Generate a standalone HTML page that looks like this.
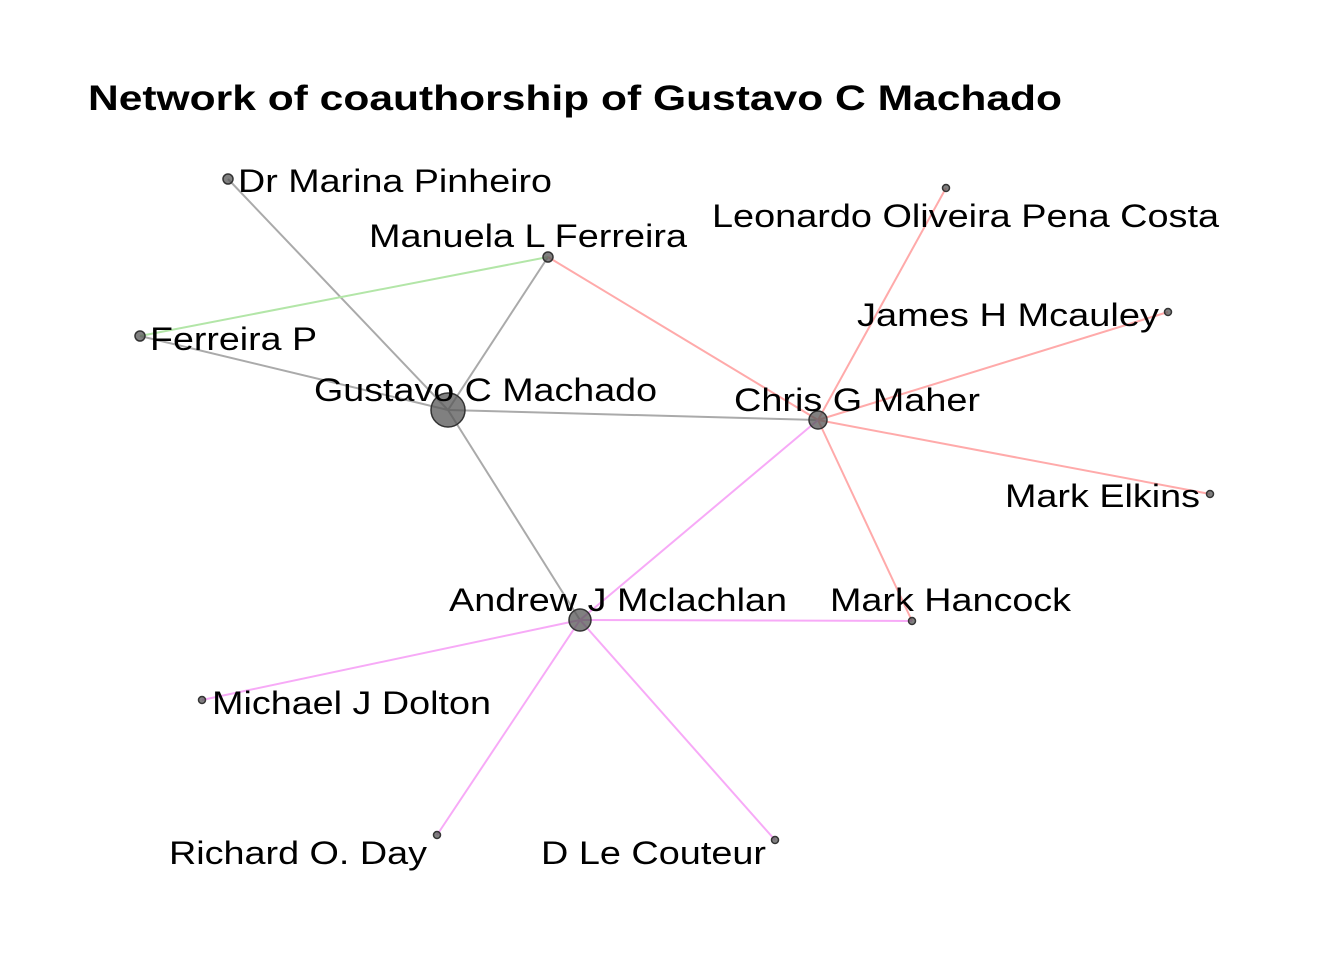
<!DOCTYPE html>
<html><head><meta charset="utf-8"><style>
html,body{margin:0;padding:0;background:#fff;}
svg text{font-family:"Liberation Sans",Arial,sans-serif;fill:#000;}
</style></head><body>
<svg width="1344" height="960" viewBox="0 0 1344 960" xmlns="http://www.w3.org/2000/svg">
<rect width="1344" height="960" fill="#fff"/>
<text x="88" y="110" font-size="35" font-weight="bold" textLength="974" lengthAdjust="spacingAndGlyphs">Network of coauthorship of Gustavo C Machado</text>
<g stroke-width="2" fill="none">
<line x1="448" y1="410" x2="228" y2="179" stroke="#aaaaaa"/>
<line x1="448" y1="410" x2="548" y2="257" stroke="#aaaaaa"/>
<line x1="448" y1="410" x2="140" y2="336" stroke="#aaaaaa"/>
<line x1="448" y1="410" x2="818" y2="420" stroke="#aaaaaa"/>
<line x1="448" y1="410" x2="580" y2="620" stroke="#aaaaaa"/>
<line x1="140" y1="336" x2="548" y2="257" stroke="#b3e6a8"/>
<line x1="548" y1="257" x2="818" y2="420" stroke="#ffaaaa"/>
<line x1="818" y1="420" x2="946" y2="188" stroke="#ffaaaa"/>
<line x1="818" y1="420" x2="1168" y2="312" stroke="#ffaaaa"/>
<line x1="818" y1="420" x2="1210" y2="494" stroke="#ffaaaa"/>
<line x1="818" y1="420" x2="912" y2="621" stroke="#ffaaaa"/>
<line x1="818" y1="420" x2="580" y2="620" stroke="#f7aaf7"/>
<line x1="580" y1="620" x2="912" y2="621" stroke="#f7aaf7"/>
<line x1="580" y1="620" x2="202" y2="700" stroke="#f7aaf7"/>
<line x1="580" y1="620" x2="437" y2="835" stroke="#f7aaf7"/>
<line x1="580" y1="620" x2="775" y2="840" stroke="#f7aaf7"/>
</g>
<g fill="#555" fill-opacity="0.75" stroke="#333" stroke-width="1.5">
<circle cx="448" cy="410" r="17"/>
<circle cx="818" cy="420" r="9"/>
<circle cx="580" cy="620" r="11"/>
<circle cx="228" cy="179" r="5"/>
<circle cx="548" cy="257" r="5"/>
<circle cx="140" cy="336" r="5"/>
<circle cx="946" cy="188" r="3.5"/>
<circle cx="1168" cy="312" r="3.5"/>
<circle cx="1210" cy="494" r="3.5"/>
<circle cx="912" cy="621" r="3.5"/>
<circle cx="202" cy="700" r="3.5"/>
<circle cx="437" cy="835" r="3.5"/>
<circle cx="775" cy="840" r="3.5"/>
</g>
<g font-size="32">
<text x="238" y="192" textLength="314" lengthAdjust="spacingAndGlyphs">Dr Marina Pinheiro</text>
<text x="369" y="247" textLength="318" lengthAdjust="spacingAndGlyphs">Manuela L Ferreira</text>
<text x="712" y="227" textLength="507" lengthAdjust="spacingAndGlyphs">Leonardo Oliveira Pena Costa</text>
<text x="857" y="326" textLength="302" lengthAdjust="spacingAndGlyphs">James H Mcauley</text>
<text x="150" y="350" textLength="167" lengthAdjust="spacingAndGlyphs">Ferreira P</text>
<text x="314" y="401" textLength="343" lengthAdjust="spacingAndGlyphs">Gustavo C Machado</text>
<text x="734" y="411" textLength="246" lengthAdjust="spacingAndGlyphs">Chris G Maher</text>
<text x="1005" y="507" textLength="195" lengthAdjust="spacingAndGlyphs">Mark Elkins</text>
<text x="449" y="611" textLength="338" lengthAdjust="spacingAndGlyphs">Andrew J Mclachlan</text>
<text x="830" y="611" textLength="241" lengthAdjust="spacingAndGlyphs">Mark Hancock</text>
<text x="212" y="714" textLength="279" lengthAdjust="spacingAndGlyphs">Michael J Dolton</text>
<text x="169" y="864" textLength="258" lengthAdjust="spacingAndGlyphs">Richard O. Day</text>
<text x="541" y="864" textLength="225" lengthAdjust="spacingAndGlyphs">D Le Couteur</text>
</g>
</svg>
</body></html>
